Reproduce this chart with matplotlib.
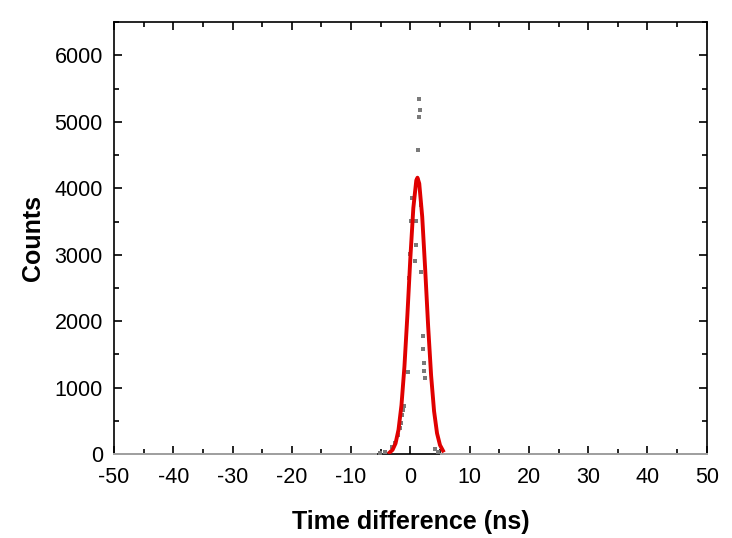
import matplotlib
matplotlib.use('Agg')
import matplotlib.pyplot as plt
import numpy as np
from matplotlib.ticker import MultipleLocator

# measured histogram points near the peak (ns, counts)
peak_t = [-5.1, -4.27, -3.14, -2.58, -2.13, -1.74, -1.57, -1.45, -1.28, -1.11,
          -0.39, -0.22, -0.05, 0.12, 0.24, 0.79, 0.91, 0.91, 1.35, 1.47,
          1.47, 1.59, 1.75, 1.75, 2.09, 2.09, 2.31, 2.31, 2.48, 4.17, 4.72]
peak_counts = [10, 35, 110, 171, 286, 387, 463, 588, 663, 724,
               1241, 2649, 3015, 3513, 3855, 2899, 3508, 3151, 4583, 5352,
               5070, 5182, 3754, 2733, 1779, 1578, 1367, 1256, 1141, 75, 35]

# flat background: counts read as ~0 outside the peak
bg_t = np.arange(-50, 50.01, 0.25)
bg_t = bg_t[(bg_t < -5.5) | (bg_t > 5.0)]
bg_counts = np.zeros_like(bg_t)

# Gaussian fit curve
fit_t = [-3.5, -3.0, -2.5, -2.0, -1.5, -1.0, -0.5, 0.0, 0.5, 1.0, 1.2, 1.5,
         2.0, 2.5, 3.0, 3.5, 4.0, 4.5, 5.0, 5.5]
fit_counts = [22, 63, 160, 365, 735, 1316, 2092, 2954, 3703, 4120, 4160, 4072,
              3573, 2783, 1925, 1182, 645, 312, 134, 51]

plt.rcParams['font.family'] = ['Liberation Sans', 'DejaVu Sans']
plt.rcParams['axes.unicode_minus'] = False

fig = plt.figure(figsize=(7.32, 5.38), dpi=100)
ax = fig.add_axes([0.1557, 0.1561, 0.8098, 0.8025])

ax.scatter(bg_t, bg_counts, s=4, marker='s', color='#a0a0a0', lw=0,
           clip_on=False, zorder=3)
ax.scatter(peak_t, peak_counts, s=8, marker='s', color='#7a7a7a', lw=0,
           zorder=3)
ax.plot(fit_t, fit_counts, color='#e00000', lw=2.8, zorder=4)

ax.set_xlim(-50, 50)
ax.set_ylim(0, 6500)
ax.xaxis.set_major_locator(MultipleLocator(10))
ax.xaxis.set_minor_locator(MultipleLocator(5))
ax.yaxis.set_major_locator(MultipleLocator(1000))
ax.yaxis.set_minor_locator(MultipleLocator(500))
ax.tick_params(which='both', direction='in', top=True, right=True,
               labelsize=15.5, width=1.2)
ax.tick_params(axis='x', pad=9)
ax.tick_params(axis='y', pad=8)
ax.tick_params(which='major', length=6)
ax.tick_params(which='minor', length=3.5)
for s in ax.spines.values():
    s.set_linewidth(1.2)

ax.set_xlabel('Time difference (ns)', fontsize=18, fontweight='bold', labelpad=16)
ax.set_ylabel('Counts', fontsize=18, fontweight='bold', labelpad=7)

fig.savefig('out.png', dpi=100)
